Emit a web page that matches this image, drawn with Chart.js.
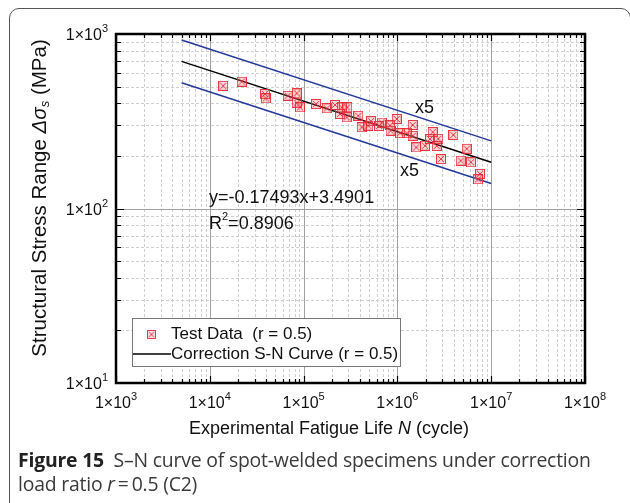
<!DOCTYPE html>
<html>
<head>
<meta charset="utf-8">
<script src="https://cdn.jsdelivr.net/npm/chart.js@4.4.1/dist/chart.umd.min.js"></script>
<style>
  html, body { margin: 0; padding: 0; background: #fff; }
  body { width: 630px; height: 503px; position: relative; overflow: hidden; }
  #frame { position: absolute; left: 9px; top: 8px; width: 622px; height: 520px; border: 1px solid #555; border-radius: 10px; box-sizing: border-box; }
  #wrap { position: absolute; left: 0; top: 0; width: 630px; height: 503px; }
  #caption { position: absolute; left: 18px; top: 448px; width: 612px; font-family: "Open Sans", "Noto Sans", sans-serif; font-size: 19.4px; line-height: 24px; color: #3a3a3a; white-space: nowrap; letter-spacing: -0.2px; }
  #caption b { color: #222; }
</style>
</head>
<body>
<div id="frame"></div>
<div id="wrap"><canvas id="c" width="630" height="503"></canvas></div>
<div id="caption"><b>Figure 15</b>&nbsp; S–N curve of spot-welded specimens under correction<br>load ratio <i>r</i>&#8201;=&#8201;0.5 (C2)</div>
<script>
// test data
const lifeN = [13900, 21900, 38800, 39500, 67700, 84400, 84400, 91500, 135600, 176300,
  216200, 254800, 292300, 244400, 288000, 383000, 416300, 489500, 523100, 680100,
  636600, 834100, 844300, 982900, 1066000, 1257000, 1456000, 1456000, 1587000, 1969000,
  2226000, 2378000, 2729000, 2624000, 2916000, 3943000, 4730000, 5481000, 6090000, 7597000, 7233000];
const stress = [505, 533, 453, 428, 443, 457, 404, 380, 397, 375,
  392, 380, 380, 348, 333, 340, 292, 298, 317, 311,
  297, 299, 279, 326, 270, 270, 301, 261, 224, 229,
  250, 274, 251, 228, 192, 264, 188, 220, 184, 158, 147];

// S-N curve and x5 scatter band end points
const curveN = [5000, 10000000];
const curveS = [697, 184];
const upperS = [923, 244];
const lowerS = [526, 139];

// axis decades (tick labels are 1x10^e)
const xExp = [3, 4, 5, 6, 7, 8];
const yExp = [1, 2, 3];

const FONT = '"Liberation Sans", Arial, sans-serif';

function pts(xs, ys) { return xs.map((v, i) => ({ x: v, y: ys[i] })); }

function makeMarker(s) {
  const c = document.createElement('canvas');
  c.width = c.height = s;
  const g = c.getContext('2d');
  g.fillStyle = 'rgba(240,100,110,0.25)';
  g.fillRect(0, 0, s, s);
  g.strokeStyle = 'rgba(228,40,52,0.9)';
  g.lineWidth = 1;
  g.strokeRect(0.5, 0.5, s - 1, s - 1);
  g.beginPath();
  g.moveTo(2, 2); g.lineTo(s - 2, s - 2);
  g.moveTo(s - 2, 2); g.lineTo(2, s - 2);
  g.stroke();
  return c;
}
const marker = makeMarker(10);

function minors(exps) {
  const out = [];
  for (let i = 0; i < exps.length - 1; i++)
    for (let m = 2; m <= 9; m++) out.push(m * Math.pow(10, exps[i]));
  return out;
}
const xMinor = minors(xExp), yMinor = minors(yExp);
const xMajor = xExp.map(e => Math.pow(10, e)), yMajor = yExp.map(e => Math.pow(10, e));

// draw runs of text with different fonts / offsets
function runs(ctx, parts, x, y) {
  let cx = x;
  parts.forEach(p => {
    ctx.font = p.f;
    ctx.fillText(p.t, cx, y + (p.dy || 0));
    cx += ctx.measureText(p.t).width;
  });
}
function runsWidth(ctx, parts) {
  let w = 0;
  parts.forEach(p => { ctx.font = p.f; w += ctx.measureText(p.t).width; });
  return w;
}
function tickParts(e) {
  return [{ t: '1×10', f: '16px ' + FONT }, { t: String(e), f: '11px ' + FONT, dy: -7 }];
}

const decor = {
  id: 'decor',
  beforeDatasetsDraw(chart) {
    const { ctx, chartArea: a, scales: { x, y } } = chart;
    ctx.save();
    ctx.lineWidth = 1;
    ctx.strokeStyle = '#cfcfcf';
    ctx.setLineDash([3, 2]);
    ctx.beginPath();
    xMinor.forEach(v => { const p = Math.round(x.getPixelForValue(v)) + 0.5; ctx.moveTo(p, a.top); ctx.lineTo(p, a.bottom); });
    yMinor.forEach(v => { const p = Math.round(y.getPixelForValue(v)) + 0.5; ctx.moveTo(a.left, p); ctx.lineTo(a.right, p); });
    ctx.stroke();
    ctx.setLineDash([]);
    ctx.strokeStyle = '#a2a2a2';
    ctx.beginPath();
    xMajor.forEach(v => { const p = Math.round(x.getPixelForValue(v)) + 0.5; ctx.moveTo(p, a.top); ctx.lineTo(p, a.bottom); });
    yMajor.forEach(v => { const p = Math.round(y.getPixelForValue(v)) + 0.5; ctx.moveTo(a.left, p); ctx.lineTo(a.right, p); });
    ctx.stroke();
    ctx.restore();
  },
  afterDatasetsDraw(chart) {
    const { ctx, chartArea: a, scales: { x, y } } = chart;
    ctx.save();
    // inside tick marks on all four sides
    ctx.strokeStyle = '#000';
    ctx.lineWidth = 1.2;
    ctx.beginPath();
    const tx = (v, len) => { const p = Math.round(x.getPixelForValue(v)) + 0.5;
      ctx.moveTo(p, a.bottom); ctx.lineTo(p, a.bottom - len); ctx.moveTo(p, a.top); ctx.lineTo(p, a.top + len); };
    const ty = (v, len) => { const p = Math.round(y.getPixelForValue(v)) + 0.5;
      ctx.moveTo(a.left, p); ctx.lineTo(a.left + len, p); ctx.moveTo(a.right, p); ctx.lineTo(a.right - len, p); };
    xMinor.forEach(v => tx(v, 4)); xMajor.forEach(v => tx(v, 7));
    yMinor.forEach(v => ty(v, 5)); yMajor.forEach(v => ty(v, 8));
    ctx.stroke();
    // frame
    ctx.lineWidth = 2.5;
    ctx.strokeRect(a.left, a.top, a.right - a.left, a.bottom - a.top);

    ctx.fillStyle = '#111';
    ctx.textBaseline = 'middle';
    // tick labels
    xExp.forEach(e => {
      const parts = tickParts(e);
      const w = runsWidth(ctx, parts);
      runs(ctx, parts, x.getPixelForValue(Math.pow(10, e)) - w / 2, a.bottom + 21);
    });
    yExp.forEach(e => {
      const parts = tickParts(e);
      const w = runsWidth(ctx, parts);
      runs(ctx, parts, a.left - 8 - w, y.getPixelForValue(Math.pow(10, e)) + 2);
    });

    // axis titles
    const xt = [{ t: 'Experimental Fatigue Life ', f: '18px ' + FONT }, { t: 'N', f: 'italic 18px ' + FONT }, { t: ' (cycle)', f: '18px ' + FONT }];
    runs(ctx, xt, 329 - runsWidth(ctx, xt) / 2, 429);
    const yt = [{ t: 'Structural Stress Range ', f: '20.5px ' + FONT }, { t: 'Δσ', f: 'italic 20.5px ' + FONT },
      { t: 's', f: 'italic 13px ' + FONT, dy: 5 }, { t: ' (MPa)', f: '20.5px ' + FONT }];
    ctx.save();
    ctx.translate(40, 198);
    ctx.rotate(-Math.PI / 2);
    runs(ctx, yt, -runsWidth(ctx, yt) / 2, 0);
    ctx.restore();

    // equation and band labels
    runs(ctx, [{ t: 'y=-0.17493x+3.4901', f: '18px ' + FONT }], 209, 198);
    runs(ctx, [{ t: 'R', f: '18px ' + FONT }, { t: '2', f: '11px ' + FONT, dy: -7 }, { t: '=0.8906', f: '18px ' + FONT }], 209, 224);
    runs(ctx, [{ t: 'x5', f: '18px ' + FONT }], 415, 108);
    runs(ctx, [{ t: 'x5', f: '18px ' + FONT }], 400, 171);

    // legend
    ctx.fillStyle = '#fff';
    ctx.fillRect(132, 318, 268, 48);
    ctx.strokeStyle = '#777';
    ctx.lineWidth = 1;
    ctx.strokeRect(132.5, 318.5, 268, 48);
    ctx.drawImage(marker, 147, 330, 9, 9);
    ctx.strokeStyle = '#000';
    ctx.lineWidth = 1.5;
    ctx.beginPath(); ctx.moveTo(133, 354); ctx.lineTo(171, 354); ctx.stroke();
    ctx.fillStyle = '#111';
    runs(ctx, [{ t: 'Test Data  (r = 0.5)', f: '17px ' + FONT }], 171, 334);
    runs(ctx, [{ t: 'Correction S-N Curve (r = 0.5)', f: '17px ' + FONT }], 171, 354);
    ctx.restore();
  }
};

const logAxis = (min, max, size, isX) => ({
  type: 'logarithmic', min, max,
  ticks: { display: false },
  grid: { display: false },
  border: { display: false },
  afterFit: s => { if (isX) s.height = size; else s.width = size; }
});

new Chart(document.getElementById('c'), {
  type: 'scatter',
  data: {
    datasets: [
      { label: 'Test Data  (r = 0.5)', data: pts(lifeN, stress), pointStyle: marker, pointRadius: 5 },
      { label: 'Correction S-N Curve (r = 0.5)', data: pts(curveN, curveS), showLine: true, borderColor: '#000', borderWidth: 1.5, pointRadius: 0 },
      { label: 'upper x5', data: pts(curveN, upperS), showLine: true, borderColor: '#24399a', borderWidth: 1.5, pointRadius: 0 },
      { label: 'lower x5', data: pts(curveN, lowerS), showLine: true, borderColor: '#24399a', borderWidth: 1.5, pointRadius: 0 }
    ]
  },
  options: {
    responsive: false,
    animation: false,
    devicePixelRatio: 1,
    layout: { padding: { left: 0, top: 34, right: 45, bottom: 0 } },
    plugins: { legend: { display: false }, tooltip: { enabled: false } },
    scales: {
      x: logAxis(1e3, 1e8, 120, true),
      y: logAxis(10, 1000, 116, false)
    }
  },
  plugins: [decor]
});
</script>
</body>
</html>
